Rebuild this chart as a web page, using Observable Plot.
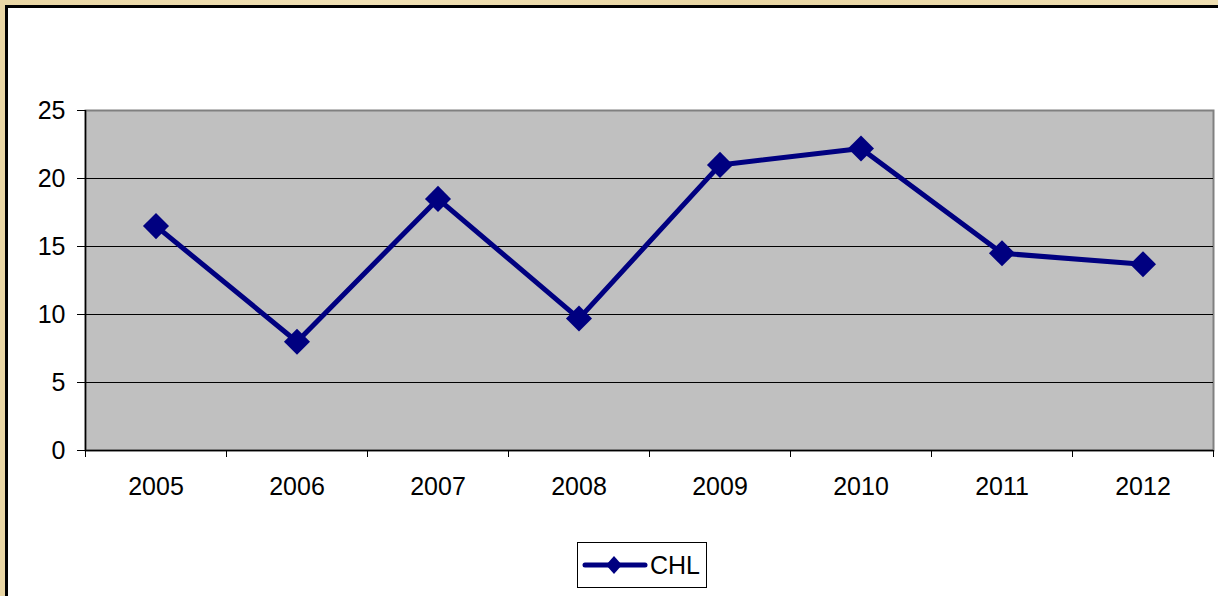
<!DOCTYPE html>
<html>
<head>
<meta charset="utf-8">
<script src="https://cdn.jsdelivr.net/npm/d3@7"></script>
<script src="https://cdn.jsdelivr.net/npm/@observablehq/plot@0.6"></script>
<style>
  html, body { margin: 0; padding: 0; }
  body {
    width: 1218px; height: 596px; overflow: hidden; position: relative;
    background: linear-gradient(90deg, #e9d6a4 0%, #f0e0b4 30%, #e8d5a2 60%, #efdfb2 100%);
    font-family: "Liberation Sans", Arial, sans-serif;
  }
  #panel {
    position: absolute; left: 5px; top: 5px; width: 1230px; height: 610px;
    background: #fff; border-left: 3px solid #000; border-top: 3px solid #000;
  }
  #chart { position: absolute; left: 0; top: 0; }
  #legend {
    position: absolute; left: 577px; top: 542px; width: 130px; height: 46px;
    border: 1px solid #000; background: #fff; box-sizing: border-box;
    display: flex; align-items: center;
  }
  #legend span { font-size: 25px; color: #000; margin-left: 2px; }
</style>
</head>
<body>
<div id="panel"></div>
<div id="chart"></div>
<div id="legend">
  <svg width="66" height="30" style="margin-left:4px">
    <line x1="3" y1="15" x2="63" y2="15" stroke="#000080" stroke-width="5" stroke-linecap="round"/>
    <polygon points="32,6 40,15 32,24 24,15" fill="#000080"/>
  </svg>
  <span>CHL</span>
</div>
<script>
const years = [2005, 2006, 2007, 2008, 2009, 2010, 2011, 2012];
const chl = [16.5, 8.0, 18.5, 9.7, 21.0, 22.2, 14.5, 13.7];
const yTicks = [0, 5, 10, 15, 20, 25];
const gridValues = [5, 10, 15, 20];
const seriesName = "CHL";

const data = years.map((y, i) => ({year: y, value: chl[i], series: seriesName}));
const xDomain = [years[0] - 0.5, years[years.length - 1] + 0.5];
const boundaries = d3.range(xDomain[0], xDomain[1] + 0.01, 1);

const chart = Plot.plot({
  width: 1218,
  height: 530,
  marginLeft: 85,
  marginRight: 5,
  marginTop: 110,
  marginBottom: 80,
  style: {background: "transparent", fontFamily: "Liberation Sans, Arial, sans-serif", color: "#000"},
  x: {domain: xDomain},
  y: {domain: [0, 25]},
  marks: [
    Plot.frame({fill: "#C0C0C0", stroke: "#808080", strokeWidth: 2}),
    Plot.ruleY(gridValues, {stroke: "#000", strokeWidth: 1}),
    Plot.ruleY([0], {stroke: "#000", strokeWidth: 1.5}),
    Plot.ruleX([xDomain[0]], {stroke: "#000", strokeWidth: 1.5}),
    Plot.axisY({ticks: yTicks, tickSize: 8, tickPadding: 12, fontSize: 25, label: null, stroke: "#000"}),
    Plot.axisX({ticks: boundaries, tickFormat: () => "", tickSize: 7, label: null}),
    Plot.axisX({ticks: years, tickFormat: d => String(d), tickSize: 0, tickPadding: 27, fontSize: 25, label: null}),
    Plot.line(data, {x: "year", y: "value", stroke: "#000080", strokeWidth: 5}),
    Plot.dot(data, {x: "year", y: "value", symbol: "square", r: 10.4, rotate: 45, fill: "#000080", stroke: "none"})
  ]
});
document.getElementById("chart").appendChild(chart);
</script>
</body>
</html>
